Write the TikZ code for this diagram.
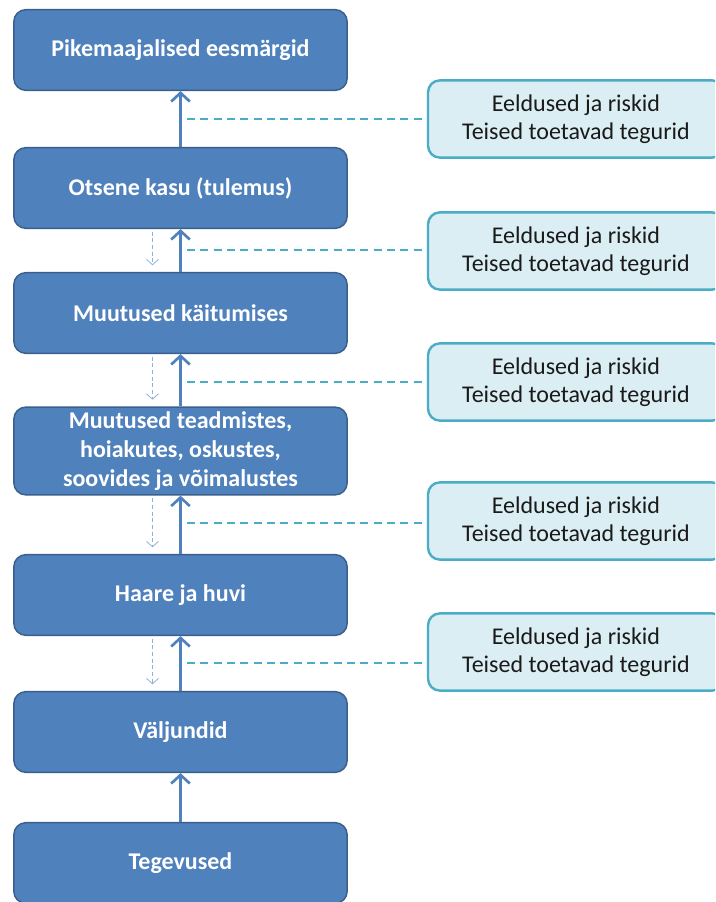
\documentclass[tikz,border=0pt]{standalone}
\usepackage{fontspec}
\setmainfont{Carlito}
\usetikzlibrary{arrows.meta}
\definecolor{stepblue}{HTML}{4F81BD}
\definecolor{stepedge}{HTML}{3B5F8C}
\definecolor{riskfill}{HTML}{DBEEF4}
\definecolor{riskedge}{HTML}{4BACC6}
\definecolor{backblue}{HTML}{8FB0D8}
\definecolor{risktext}{HTML}{1A1A1A}

\begin{document}
\begin{tikzpicture}[x=0.75pt,y=-0.75pt,
    stepbox/.style={draw=stepedge,line width=1.1pt,fill=stepblue,rounded corners=9pt,
      minimum width=250pt,minimum height=60.5pt,align=center,text=white,
      font=\fontsize{18}{21.75}\selectfont\bfseries},
    riskbox/.style={draw=riskedge,line width=1.8pt,fill=riskfill,rounded corners=9pt,
      minimum width=222pt,minimum height=58pt,align=center,text=risktext,
      font=\fontsize{18}{21}\selectfont},
    upline/.style={stepblue,line width=2.3pt,-{Straight Barb[length=6.5pt,width=14pt,line width=2pt]}},
    backline/.style={backblue,line width=0.6pt,dashed,dash pattern=on 3pt off 2pt,
      -{Straight Barb[length=4pt,width=9pt,line width=0.6pt]}},
    riskline/.style={riskedge,line width=1.4pt,dash pattern=on 6pt off 4pt}]
        \useasboundingbox (0,0) rectangle (715,902);
        \clip (0,0) rectangle (715,902);
        % steps of the chain
        \node[stepbox] (goal) at (180.5,50) {Pikemaajalised eesmärgid};
        \node[stepbox] (kasu) at (180.5,188) {Otsene kasu (tulemus)};
        \node[stepbox] (kait) at (180.5,313) {Muutused käitumises};
        \node[stepbox] (teadm) at (180.5,451) {Muutused teadmistes,\\hoiakutes, oskustes,\\soovides ja võimalustes};
        \node[stepbox] (haare) at (180.5,595) {Haare ja huvi};
        \node[stepbox] (valj) at (180.5,732) {Väljundid};
        \node[stepbox] (teg) at (180.5,863) {Tegevused};
        % assumptions
        \node[riskbox] (r1) at (576,119) {Eeldused ja riskid\\Teised toetavad tegurid};
        \node[riskbox] (r2) at (576,251) {Eeldused ja riskid\\Teised toetavad tegurid};
        \node[riskbox] (r3) at (576,382) {Eeldused ja riskid\\Teised toetavad tegurid};
        \node[riskbox] (r4) at (576,521) {Eeldused ja riskid\\Teised toetavad tegurid};
        \node[riskbox] (r5) at (576,652) {Eeldused ja riskid\\Teised toetavad tegurid};
        % solid arrows up
        \draw[upline] (teg.north) -- (valj.south);
        \draw[upline] (valj.north) -- (haare.south);
        \draw[upline] (haare.north) -- (teadm.south);
        \draw[upline] (teadm.north) -- (kait.south);
        \draw[upline] (kait.north) -- (kasu.south);
        \draw[upline] (kasu.north) -- (goal.south);
        % thin dashed arrows down
        \draw[backline] ([xshift=-21pt,yshift=-2pt]kasu.south) -- ([xshift=-21pt,yshift=5pt]kait.north);
        \draw[backline] ([xshift=-21pt,yshift=-2pt]kait.south) -- ([xshift=-21pt,yshift=5pt]teadm.north);
        \draw[backline] ([xshift=-21pt,yshift=-2pt]teadm.south) -- ([xshift=-21pt,yshift=5pt]haare.north);
        \draw[backline] ([xshift=-21pt,yshift=-2pt]haare.south) -- ([xshift=-21pt,yshift=5pt]valj.north);
        % dashed links to the assumptions
        \coordinate (d1) at (187,119);
        \coordinate (d2) at (187,250);
        \coordinate (d3) at (187,382);
        \coordinate (d4) at (187,523);
        \coordinate (d5) at (187,663);
        \draw[riskline] (d1) -- (d1 -| r1.west);
        \draw[riskline] (d2) -- (d2 -| r2.west);
        \draw[riskline] (d3) -- (d3 -| r3.west);
        \draw[riskline] (d4) -- (d4 -| r4.west);
        \draw[riskline] (d5) -- (d5 -| r5.west);
    \end{tikzpicture}
\end{document}
